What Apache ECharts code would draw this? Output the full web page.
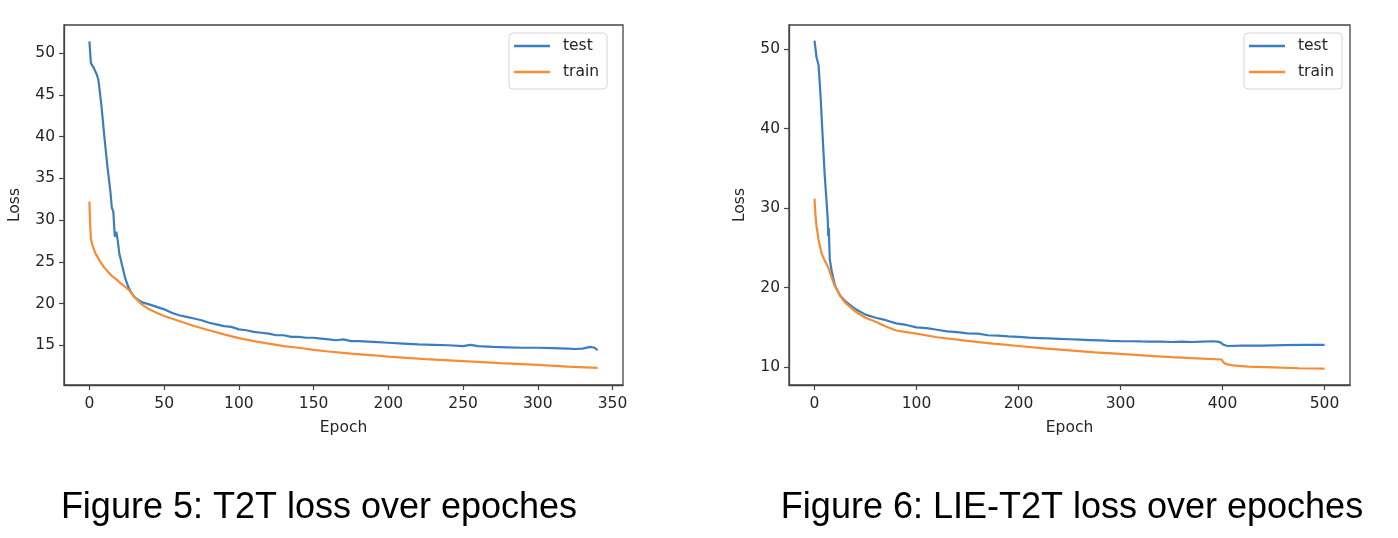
<!DOCTYPE html>
<html>
<head>
<meta charset="utf-8">
<script src="https://cdn.jsdelivr.net/npm/echarts@6/dist/echarts.min.js"></script>
<style>
  html, body { margin: 0; padding: 0; background: #fff; }
  #main { width: 1398px; height: 538px; }
</style>
</head>
<body>
<div id="main"></div>
<script>
// Figure 5: T2T, [epoch, loss]
const t2tTest = [
  [0, 51.4], [1, 48.8], [3, 48.2], [5, 47.4], [6, 46.8], [8, 43.8], [10, 40.0],
  [12, 36.5], [14, 33.5], [15, 31.5], [16, 31.0], [17, 28.0], [18, 28.6], [19, 27.5],
  [20, 26.0], [22, 24.5], [24, 23.0], [26, 22.0], [28, 21.3], [30, 20.8], [33, 20.4],
  [36, 20.1], [40, 19.9], [45, 19.6], [50, 19.3], [55, 18.9], [60, 18.6], [65, 18.4],
  [70, 18.2], [75, 18.0], [80, 17.7], [85, 17.5], [90, 17.3], [95, 17.2], [100, 16.9],
  [105, 16.8], [110, 16.6], [115, 16.5], [120, 16.4], [125, 16.2], [130, 16.2],
  [135, 16.0], [140, 16.0], [145, 15.9], [150, 15.9], [155, 15.8], [160, 15.7],
  [165, 15.6], [170, 15.7], [175, 15.5], [180, 15.5], [190, 15.4], [200, 15.3],
  [210, 15.2], [220, 15.1], [230, 15.05], [240, 15.0], [250, 14.9], [255, 15.05],
  [260, 14.9], [270, 14.8], [280, 14.75], [290, 14.7], [300, 14.7], [310, 14.65],
  [320, 14.6], [325, 14.55], [330, 14.6], [335, 14.8], [338, 14.7], [340, 14.4]
];
const t2tTrain = [
  [0, 32.2], [0.5, 29.5], [1, 27.8], [2, 27.0], [4, 26.0], [6, 25.4], [8, 24.8],
  [10, 24.3], [12, 23.9], [15, 23.3], [18, 22.9], [21, 22.4], [24, 22.0], [27, 21.5],
  [30, 20.8], [35, 19.9], [40, 19.3], [45, 18.9], [50, 18.5], [60, 17.9], [70, 17.3],
  [80, 16.8], [90, 16.3], [100, 15.85], [110, 15.5], [120, 15.2], [130, 14.9],
  [140, 14.7], [150, 14.45], [160, 14.25], [175, 14.0], [190, 13.8], [200, 13.65],
  [225, 13.35], [250, 13.1], [275, 12.85], [300, 12.65], [320, 12.45], [340, 12.3]
];

// Figure 6: LIE-T2T, [epoch, loss]
const lieTest = [
  [0, 51.1], [2, 49.0], [4, 48.0], [5, 46.0], [6, 44.0], [8, 39.0], [10, 34.2],
  [12, 30.5], [13, 28.5], [13.5, 26.5], [14, 27.5], [14.5, 25.5], [15, 23.5],
  [17, 22.0], [20, 20.3], [25, 19.0], [30, 18.3], [40, 17.3], [50, 16.6], [60, 16.2],
  [70, 15.9], [80, 15.5], [90, 15.3], [100, 15.0], [110, 14.9], [120, 14.7],
  [130, 14.5], [140, 14.4], [150, 14.25], [160, 14.2], [170, 14.0], [180, 13.95],
  [190, 13.85], [200, 13.8], [210, 13.7], [220, 13.65], [230, 13.6], [240, 13.55],
  [250, 13.5], [260, 13.45], [270, 13.4], [280, 13.35], [290, 13.3], [300, 13.27],
  [310, 13.25], [320, 13.22], [330, 13.2], [340, 13.2], [350, 13.15], [360, 13.2],
  [370, 13.15], [380, 13.2], [390, 13.25], [395, 13.2], [398, 13.1], [401, 12.8],
  [405, 12.65], [420, 12.7], [440, 12.7], [460, 12.75], [480, 12.8], [500, 12.8]
];
const lieTrain = [
  [0, 31.2], [1, 29.0], [2, 27.7], [4, 26.0], [7, 24.3], [10, 23.4], [14, 22.4],
  [17, 21.2], [20, 20.2], [25, 19.0], [30, 18.1], [40, 17.0], [50, 16.2], [60, 15.7],
  [70, 15.1], [80, 14.6], [90, 14.4], [100, 14.2], [120, 13.75], [140, 13.45],
  [150, 13.3], [175, 12.95], [200, 12.65], [225, 12.35], [250, 12.1], [275, 11.85],
  [300, 11.65], [325, 11.45], [350, 11.25], [375, 11.1], [399, 10.95], [401, 10.6],
  [403, 10.4], [410, 10.2], [425, 10.05], [450, 9.95], [475, 9.85], [500, 9.8]
];

// tick labels
const t2tXTicks = [0, 50, 100, 150, 200, 250, 300, 350];
const t2tYTicks = [15, 20, 25, 30, 35, 40, 45, 50];
const lieXTicks = [0, 100, 200, 300, 400, 500];
const lieYTicks = [10, 20, 30, 40, 50];

const titles = ['Figure 5: T2T loss over epoches', 'Figure 6: LIE-T2T loss over epoches'];
const seriesNames = ['test', 'train'];

const BLUE = '#3b7ec0';
const ORANGE = '#f68c34';
const FRAME = '#444';
const TXT = '#262626';
const tickFont = { fontFamily: 'DejaVu Sans', fontSize: 15.5, color: TXT };

function xAxisCfg(idx, min, max, ticks) {
  return {
    type: 'value', gridIndex: idx, min: min, max: max,
    name: 'Epoch', nameLocation: 'middle', nameGap: 35,
    nameTextStyle: { fontFamily: 'DejaVu Sans', fontSize: 15.5, color: TXT },
    axisLine: { show: true, onZero: false, lineStyle: { color: FRAME, width: 1.3 } },
    axisTick: { show: true, length: 5, customValues: ticks, lineStyle: { color: FRAME, width: 1.2 } },
    axisLabel: Object.assign({ margin: 11, customValues: ticks }, tickFont),
    splitLine: { show: false }
  };
}
function yAxisCfg(idx, min, max, ticks) {
  return {
    type: 'value', gridIndex: idx, min: min, max: max,
    name: 'Loss', nameLocation: 'middle', nameGap: 41,
    nameTextStyle: { fontFamily: 'DejaVu Sans', fontSize: 15.5, color: TXT },
    axisLine: { show: true, onZero: false, lineStyle: { color: FRAME, width: 1.3 } },
    axisTick: { show: true, length: 5, customValues: ticks, lineStyle: { color: FRAME, width: 1.2 } },
    axisLabel: Object.assign({ margin: 9, customValues: ticks }, tickFont),
    splitLine: { show: false }
  };
}
function legendCfg(left) {
  return {
    orient: 'vertical', left: left, top: 33,
    data: seriesNames,
    icon: 'rect', itemWidth: 36, itemHeight: 2.5, itemGap: 10,
    padding: [5, 8, 9, 5],
    borderColor: '#d6d6d6', borderWidth: 1, borderRadius: 4,
    backgroundColor: '#fff',
    textStyle: { fontFamily: 'DejaVu Sans', fontSize: 15.5, color: TXT, lineHeight: 15, padding: [0, 0, 0, 8] }
  };
}
function lineSeries(name, color, data, idx) {
  return {
    name: name, type: 'line', xAxisIndex: idx, yAxisIndex: idx,
    data: data, showSymbol: false, symbol: 'none',
    lineStyle: { color: color, width: 2.2 }, itemStyle: { color: color }
  };
}

const chart = echarts.init(document.getElementById('main'), null, { renderer: 'canvas' });
chart.setOption({
  animation: false,
  backgroundColor: '#fff',
  title: [
    { text: titles[0], left: 314, textAlign: 'center', top: 485,
      textStyle: { fontFamily: 'Liberation Sans', fontSize: 36, fontWeight: 'normal', color: '#000' } },
    { text: titles[1], left: 1067, textAlign: 'center', top: 485,
      textStyle: { fontFamily: 'Liberation Sans', fontSize: 36, fontWeight: 'normal', color: '#000' } }
  ],
  grid: [
    { left: 64, top: 25, width: 559, height: 360, show: true, borderColor: FRAME, borderWidth: 1.3, containLabel: false },
    { left: 789, top: 25, width: 561, height: 360, show: true, borderColor: FRAME, borderWidth: 1.3, containLabel: false }
  ],
  xAxis: [
    xAxisCfg(0, -17, 357, t2tXTicks),
    xAxisCfg(1, -25, 525, lieXTicks)
  ],
  yAxis: [
    yAxisCfg(0, 10.24, 53.36, t2tYTicks),
    yAxisCfg(1, 7.74, 53.06, lieYTicks)
  ],
  legend: [legendCfg(509), legendCfg(1244)],
  series: [
    lineSeries(seriesNames[0], BLUE, t2tTest, 0),
    lineSeries(seriesNames[1], ORANGE, t2tTrain, 0),
    lineSeries(seriesNames[0], BLUE, lieTest, 1),
    lineSeries(seriesNames[1], ORANGE, lieTrain, 1)
  ]
});
</script>
</body>
</html>
